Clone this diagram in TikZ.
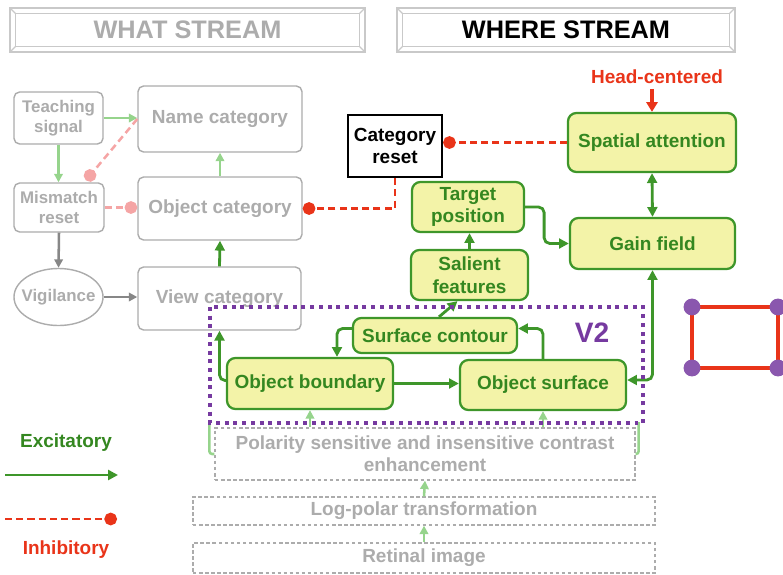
\documentclass[tikz,border=0pt]{standalone}
\usepackage{fontspec}
\setmainfont{Liberation Sans}
\usetikzlibrary{arrows.meta, positioning, shapes.geometric, calc}

\definecolor{grn}{RGB}{62,150,42}
\definecolor{grntext}{RGB}{52,135,32}
\definecolor{yel}{RGB}{243,243,168}
\definecolor{lgrn}{RGB}{150,212,140}
\definecolor{gry}{RGB}{172,172,172}
\definecolor{dgry}{RGB}{135,135,135}
\definecolor{pnk}{RGB}{245,165,165}
\definecolor{rd}{RGB}{233,52,25}
\definecolor{prp}{RGB}{118,58,160}

\tikzset{
  bigfont/.style={font=\fontsize{13.5}{16}\selectfont\bfseries},
  titlebox/.style={outer sep=0pt, minimum height=1.1cm, font=\fontsize{18}{20}\selectfont\bfseries},
  frame/.style={draw=gry!65, line width=0.9pt},
  whatbox/.style={draw=gry, line width=1pt, rounded corners=4pt, fill=white, text=gry,
    align=center, inner sep=1pt, bigfont},
  smallwhat/.style={whatbox, font=\fontsize{12}{14.5}\selectfont\bfseries},
  wherebox/.style={draw=grn, line width=1.6pt, rounded corners=6pt, fill=yel, text=grntext,
    align=center, inner sep=1pt, bigfont},
  lowbox/.style={draw=gry, line width=0.9pt, dash pattern=on 2.5pt off 1.8pt, fill=white,
    text=gry, align=center, inner sep=1pt, font=\fontsize{13.5}{15.5}\selectfont\bfseries},
  exc/.style={draw=grn, line width=2pt, rounded corners=4pt, -{Triangle[length=7pt,width=7pt]}},
  excboth/.style={exc, {Triangle[length=7pt,width=7pt]}-{Triangle[length=7pt,width=7pt]}},
  lexc/.style={draw=lgrn, line width=1.8pt, -{Triangle[length=6pt,width=6pt]}},
  gexc/.style={draw=dgry, line width=1.8pt, -{Triangle[length=6pt,width=6pt]}},
  inh/.style={draw=rd, line width=2pt, dash pattern=on 5pt off 3pt, -{Circle[length=9pt]}},
  pinh/.style={inh, draw=pnk, line width=1.8pt}
}

\begin{document}
\begin{tikzpicture}[x=0.025cm, y=-0.025cm]
  \useasboundingbox (0,0) rectangle (783,574);

  % Stream titles
  \node[titlebox, minimum width=8.875cm, text=gry] (what) at (187.5,30) {WHAT STREAM};
  \node[titlebox, minimum width=8.45cm] (where) at (566,30) {WHERE STREAM};
  \foreach \t in {what, where} {
    \draw[frame] (\t.north west) rectangle (\t.south east);
    \draw[frame] ([shift={(4pt,-4pt)}]\t.north west) rectangle ([shift={(-4pt,4pt)}]\t.south east);
    \draw[frame] (\t.north west) -- ++(4pt,-4pt) (\t.north east) -- ++(-4pt,-4pt)
      (\t.south west) -- ++(4pt,4pt) (\t.south east) -- ++(-4pt,4pt);
  }

  % What stream
  \node[smallwhat, minimum width=2.225cm, minimum height=1.3cm] (teach) at (58.5,118) {Teaching\\signal};
  \node[whatbox, minimum width=4.1cm, minimum height=1.65cm] (name) at (220,119) {Name category};
  \node[smallwhat, minimum width=2.25cm, minimum height=1.225cm] (mismatch) at (59,207.5) {Mismatch\\reset};
  \node[whatbox, minimum width=4.1cm, minimum height=1.575cm] (objcat) at (220,208.5) {Object category};
  \node[smallwhat, ellipse, rounded corners=0pt, inner sep=0pt, minimum width=2.225cm, minimum height=1.425cm] (vig) at (58.5,297) {\makebox[1.2cm]{Vigilance}};
  \node[whatbox, minimum width=4.075cm, minimum height=1.575cm] (viewcat) at (219.5,298.5) {View category};

  \draw[lexc] (teach.east) -- (teach.east -| name.west);
  \draw[lexc] (teach.south) -- (teach.south |- mismatch.north);
  \draw[pinh] (name.west) -- ($(mismatch.north)+(27,-2)$);
  \draw[pinh] (mismatch.east) -- (mismatch.east -| objcat.west);
  \draw[gexc] (mismatch.south) -- (vig.north);
  \draw[gexc] (vig.east) -- (vig.east -| viewcat.west);
  \draw[exc] (viewcat.north) -- (objcat.south);
  \draw[lexc] (objcat.north) -- (name.south);

  % Where stream
  \node[draw=black, line width=1.6pt, fill=white, align=center, inner sep=1pt, bigfont,
    minimum width=2.35cm, minimum height=1.55cm] (catreset) at (395,146) {Category\\reset};
  \node[wherebox, minimum width=4.2cm, minimum height=1.475cm] (spatial) at (652,142.5) {Spatial attention};
  \node[wherebox, minimum width=4.125cm, minimum height=1.275cm] (gain) at (652.5,243.5) {Gain field};
  \node[wherebox, minimum width=2.8cm, minimum height=1.25cm] (target) at (468,207) {Target\\position};
  \node[wherebox, minimum width=2.925cm, minimum height=1.25cm] (salient) at (469.5,275) {Salient\\features};
  \node[wherebox, minimum width=4.1cm, minimum height=0.875cm] (contour) at (435,335.5) {Surface contour};
  \node[wherebox, minimum width=4.15cm, minimum height=1.275cm] (boundary) at (310,383.5) {Object boundary};
  \node[wherebox, minimum width=4.15cm, minimum height=1.25cm] (surface) at (543,385) {Object surface};
  \node[text=rd, bigfont] (head) at (657,77) {Head-centered};

  \draw[inh] (catreset.south) |- (objcat.east);
  \draw[inh] (spatial.west) -- (spatial.west -| catreset.east);
  \draw[draw=rd, line width=2.2pt, -{Triangle[length=7pt,width=8pt]}] (head.south -| spatial.north) -- (spatial.north);
  \draw[excboth] (spatial.south) -- (gain.north);
  \draw[exc] (salient.north) -- (salient.north |- target.south);
  \draw[exc] (target.east) -- ++(19,0) |- (gain.west);
  \draw[excboth] (gain.south) |- ($(surface.east)+(0,-5)$);
  \draw[exc] (boundary.east) -- (boundary.east -| surface.west);
  \draw[exc] ($(contour.west)+(0,-7)$) -| ($(boundary.north)+(27,0)$);
  \draw[exc] (surface.north) |- ($(contour.east)+(0,-7)$);
  \draw[exc] ($(contour.north)+(4,0)$) -- ($(salient.south)+(-12,0)$);
  \draw[exc] ($(boundary.west)+(0,-3)$) -| (viewcat.south);

  % Early stages
  \node[lowbox, minimum width=10.5cm, minimum height=1.3cm] (polarity) at (425,454) {Polarity sensitive and insensitive contrast\\enhancement};
  \node[lowbox, minimum width=11.55cm, minimum height=0.7cm] (logpolar) at (424,511) {Log-polar transformation};
  \node[lowbox, minimum width=11.55cm, minimum height=0.75cm] (retinal) at (424,558) {Retinal image};

  \draw[lexc] (logpolar.north) -- (polarity.south);
  \draw[lexc] (retinal.north) -- (logpolar.south);
  \draw[lexc] (polarity.north -| boundary.south) -- (boundary.south);
  \draw[lexc] (polarity.north -| surface.south) -- (surface.south);
  \draw[lgrn, line width=1.8pt, rounded corners=2pt] (polarity.west) -- ++(-5,0) -- ++(0,-32);
  \draw[lgrn, line width=1.8pt, rounded corners=2pt] (polarity.east) -- ++(3,0) -- ++(0,-32);

  % V2
  \draw[prp, line width=2.8pt, dash pattern=on 2.8pt off 3.4pt] (210,307) rectangle (643,423);
  \node[text=prp, font=\fontsize{20}{22}\selectfont\bfseries] (v2) at (592,333) {V2};

  % Legend
  \node[text=grntext, bigfont] (exclabel) at (66,443) {Excitatory};
  \node[text=rd, bigfont] (inhlabel) at (66,550) {Inhibitory};
  \coordinate (excA) at (5,475);
  \coordinate (excB) at (118,475);
  \coordinate (inhA) at (5,519);
  \coordinate (inhB) at (117,519);
  \draw[exc] (excA) -- (excB);
  \draw[inh] (inhA) -- (inhB);

  % Grid cell
  \draw[rd, line width=2.8pt] (692,307) rectangle (778,368);
  \foreach \p in {(692,307), (778,307), (692,368), (778,368)}
    \fill[prp!85] \p circle[radius=6pt];
\end{tikzpicture}
\end{document}
